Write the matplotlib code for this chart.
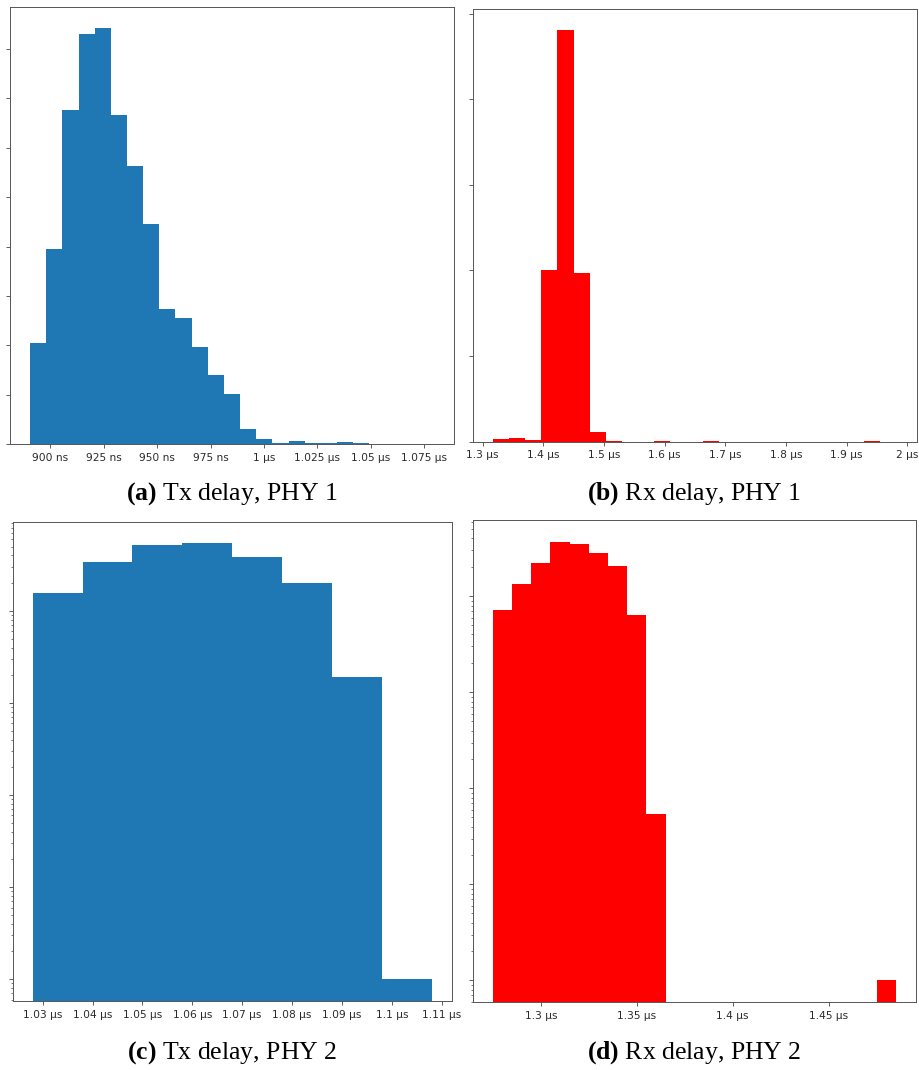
import numpy as np
import matplotlib
matplotlib.use("Agg")
import matplotlib.pyplot as plt
from matplotlib.ticker import EngFormatter

# caption fonts: serif text with a bold sub-figure letter
plt.rcParams['mathtext.fontset'] = 'custom'
plt.rcParams['mathtext.rm'] = 'Liberation Serif'
plt.rcParams['mathtext.bf'] = 'Liberation Serif:bold'

# histogram counts per bin, bins are equal width between lo and hi (seconds)
tx1_range = (890.6e-9, 1079.5e-9)
tx1_counts = [205, 395, 676, 831, 843, 666, 564, 445, 274, 256, 196, 140, 101,
              30, 10, 3, 7, 3, 3, 5, 3, 1, 0, 0, 1]

rx1_range = (1.3168e-6, 1.9823e-6)
rx1_counts = [35, 48, 18, 2000, 4810, 1970, 118, 10, 0, 0, 10, 0, 0, 10, 0, 0,
              0, 0, 0, 0, 0, 0, 0, 10, 1]

tx2_range = (1.028e-6, 1.108e-6)
tx2_counts = [15800, 33800, 51800, 54000, 38300, 20000, 1900, 1]

rx2_range = (1.275e-6, 1.485e-6)
rx2_counts = [7150, 13400, 22100, 36800, 34600, 28500, 20900, 6430, 54,
              0, 0, 0, 0, 0, 0, 0, 0, 0, 0, 0, 1]

captions = [r"$\mathbf{(a)}$ Tx delay, PHY 1", r"$\mathbf{(b)}$ Rx delay, PHY 1",
            r"$\mathbf{(c)}$ Tx delay, PHY 2", r"$\mathbf{(d)}$ Rx delay, PHY 2"]

W, H = 919, 1070
fig = plt.figure(figsize=(W / 100, H / 100), dpi=100)


def axes_px(left, top, right, bottom):
    # pixel box (from top-left) -> figure fraction axes
    return fig.add_axes([left / W, (H - bottom) / H, (right - left) / W, (bottom - top) / H])


def draw_hist(ax, rng, counts, color, log=False):
    counts = np.array(counts, dtype=float)
    edges = np.linspace(rng[0], rng[1], len(counts) + 1)
    centers = (edges[:-1] + edges[1:]) / 2
    ax.hist(centers, bins=edges, weights=counts, color=color, log=log)
    ax.xaxis.set_major_formatter(EngFormatter(unit='s'))
    ax.tick_params(axis='both', which='major', labelsize=7.7, length=2.7, width=0.6,
                   color='#444444', labelcolor='#2a2a2a')
    ax.tick_params(axis='both', which='minor', length=1.6, width=0.5, color='#444444')
    ax.tick_params(axis='y', which='both', labelleft=False)
    for s in ax.spines.values():
        s.set_linewidth(0.7)
        s.set_color('#555555')


ax_a = axes_px(10, 7, 454, 444)
draw_hist(ax_a, tx1_range, tx1_counts, '#1f77b4')

ax_b = axes_px(472.7, 9.3, 916.7, 441.7)
draw_hist(ax_b, rx1_range, rx1_counts, 'red')

ax_c = axes_px(12.7, 521.7, 451.7, 1001)
draw_hist(ax_c, tx2_range, tx2_counts, '#1f77b4', log=True)

ax_d = axes_px(472.7, 520, 916, 1002.3)
draw_hist(ax_d, rx2_range, rx2_counts, 'red', log=True)

cap_pos = [(232, 494), (694, 494), (232, 1053), (694, 1053)]
for (cx, cy), txt in zip(cap_pos, captions):
    fig.text(cx / W, 1 - cy / H, txt, ha='center', va='center',
             family='Liberation Serif', fontsize=18.5)

fig.savefig('out.png', dpi=100)
